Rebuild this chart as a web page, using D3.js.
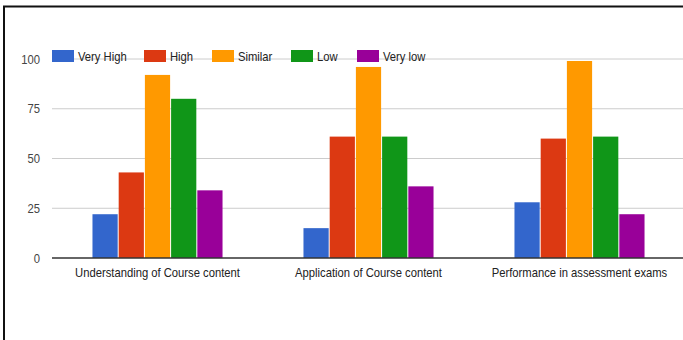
<!DOCTYPE html>
<html>
<head>
<meta charset="utf-8">
<script src="https://cdn.jsdelivr.net/npm/d3@7"></script>
<style>
  html, body { margin: 0; padding: 0; background: #fff; }
  svg { display: block; }
  text { font-family: "Liberation Sans", Arial, sans-serif; }
</style>
</head>
<body>
<svg id="chart" width="683" height="340"></svg>
<script>
// Survey responses per aspect, grouped by rating
const categories = ["Understanding of Course content", "Application of Course content", "Performance in assessment exams"];
const seriesNames = ["Very High", "High", "Similar", "Low", "Very low"];
const seriesColors = ["#3366cc", "#dc3912", "#ff9900", "#109618", "#990099"];
const veryHigh = [22, 15, 28];
const high = [43, 61, 60];
const similar = [92, 96, 99];
const low = [80, 61, 61];
const veryLow = [34, 36, 22];
const yTicks = [0, 25, 50, 75, 100];

const seriesValues = [veryHigh, high, similar, low, veryLow];
const FS = 12.5;     // label font size
const SX = 0.9;      // horizontal squeeze of the label type

const svg = d3.select("#chart");
const W = 683, H = 340;
const margin = { left: 52, right: -2, top: 59, bottom: 82 };
const plotBottom = H - margin.bottom;

// outer frame (top and left edges)
svg.append("path")
  .attr("d", `M4,${H} V6.5 H${W}`)
  .attr("fill", "none")
  .attr("stroke", "#111")
  .attr("stroke-width", 2);

const y = d3.scaleLinear().domain([0, 100]).range([plotBottom, margin.top]);
const x0 = d3.scaleBand().domain(categories).range([margin.left, W - margin.right]).padding(0);
const x1 = d3.scaleBand().domain(seriesNames).range([0, x0.bandwidth()]).paddingInner(0).paddingOuter(1.525);

// gridlines
svg.append("g")
  .selectAll("line")
  .data(yTicks.filter(d => d !== 0))
  .join("line")
  .attr("x1", margin.left).attr("x2", W)
  .attr("y1", d => y(d)).attr("y2", d => y(d))
  .attr("stroke", "#cccccc").attr("stroke-width", 1);

// y axis labels
const yAxis = d3.axisLeft(y).tickValues(yTicks).tickSize(0).tickPadding(12);
const yg = svg.append("g").attr("transform", `translate(${margin.left},0)`).call(yAxis);
yg.select(".domain").remove();
yg.selectAll("text")
  .attr("font-size", FS).attr("fill", "#444").attr("font-family", null)
  .attr("x", -12 / SX)
  .attr("transform", `scale(${SX},1)`);

// bars
const groups = svg.append("g")
  .selectAll("g")
  .data(categories)
  .join("g")
  .attr("transform", d => `translate(${x0(d)},0)`);

groups.selectAll("rect")
  .data((c, ci) => seriesNames.map((s, si) => ({ s, si, v: seriesValues[si][ci] })))
  .join("rect")
  .attr("x", d => x1(d.s) + 0.5)
  .attr("width", x1.bandwidth() - 1)
  .attr("y", d => y(d.v))
  .attr("height", d => plotBottom - y(d.v))
  .attr("fill", d => seriesColors[d.si]);

// baseline
svg.append("line")
  .attr("x1", margin.left).attr("x2", W)
  .attr("y1", plotBottom).attr("y2", plotBottom)
  .attr("stroke", "#333").attr("stroke-width", 1.5);

// category labels
const xAxis = d3.axisBottom(x0).tickSize(0).tickPadding(10);
const xg = svg.append("g").attr("transform", `translate(0,${plotBottom})`).call(xAxis);
xg.select(".domain").remove();
xg.selectAll("text")
  .attr("font-size", FS).attr("fill", "#222").attr("font-family", null)
  .attr("transform", `scale(${SX},1)`);

// legend
const legendX = [52, 144, 212, 291, 357];
const legend = svg.append("g")
  .selectAll("g")
  .data(seriesNames)
  .join("g")
  .attr("transform", (d, i) => `translate(${legendX[i]},50)`);
legend.append("rect")
  .attr("width", 22).attr("height", 12)
  .attr("fill", (d, i) => seriesColors[i]);
legend.append("text")
  .attr("transform", `translate(26,11) scale(${SX},1)`)
  .attr("font-size", FS).attr("fill", "#222")
  .text(d => d);
</script>
</body>
</html>
